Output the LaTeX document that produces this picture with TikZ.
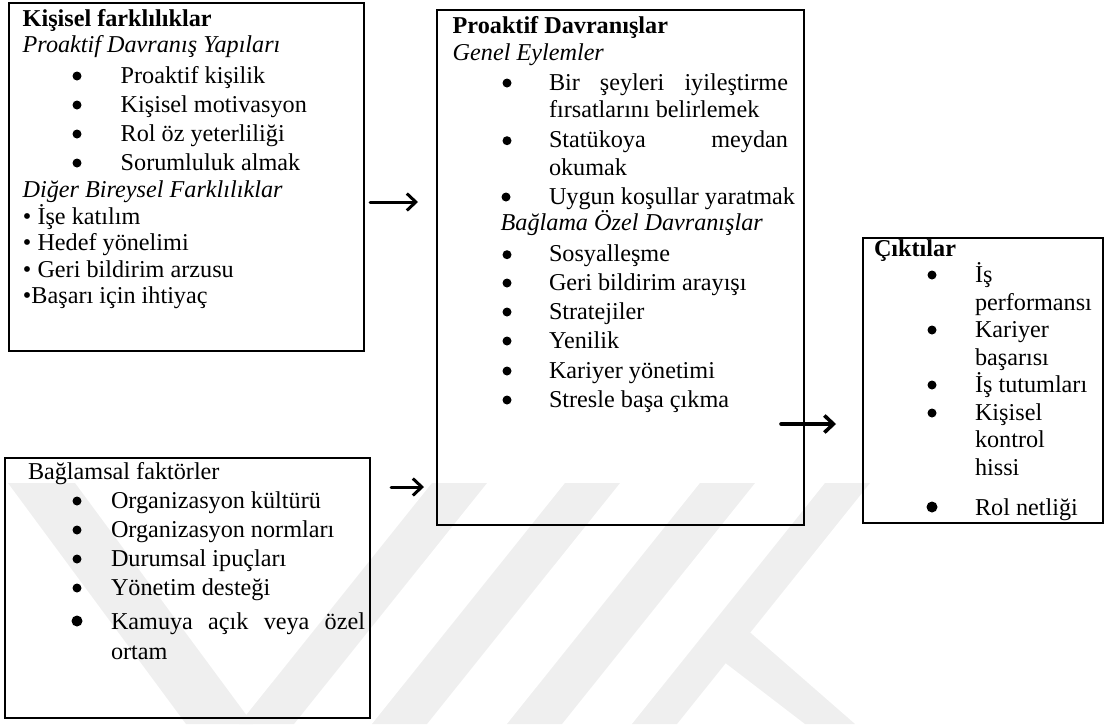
\documentclass[tikz,border=0pt]{standalone}
\usepackage{fontspec}
\setmainfont{Liberation Serif}
\usetikzlibrary{arrows.meta}
\definecolor{wmgray}{HTML}{EFEFEF}
\begin{document}
\begin{tikzpicture}[x=1pt,y=-1pt,
  frame/.style={draw, line width=2.2pt, rectangle, anchor=north west, inner sep=0pt, outer sep=0pt},
  txt/.style={anchor=base west, inner sep=0pt, outer sep=0pt, font=\fontsize{24.2}{29}\selectfont},
  dot/.style={circle, fill, inner sep=0pt, minimum size=9pt, yshift=7pt},
  bigdot/.style={circle, fill, inner sep=0pt, minimum size=11pt, yshift=8pt},
  flow/.style={line width=3pt, -{Straight Barb[length=9pt,width=17pt]}, line cap=round, line join=round},
]
\useasboundingbox (0,0) rectangle (1105,724);

% faint background emblem
\fill[wmgray] (8,483) -- (75,483) -- (253,724) -- (186,724) -- cycle;
\foreach \l/\r in {432/487, 565/620, 700/755, 825/870}
  \fill[wmgray] (\l,483) -- (\r,483) -- (\r-193,724) -- (\l-193,724) -- cycle;
\fill[wmgray] (715,655) -- (745,628) -- (855,724) -- (805,724) -- cycle;

% frames
\node[frame, minimum width=355pt, minimum height=348pt] (kf) at (9,3) {};
\node[frame, minimum width=367pt, minimum height=515pt] (pd) at (437,10) {};
\node[frame, minimum width=240pt, minimum height=285pt] (ct) at (863,238) {};
\node[frame, minimum width=365pt, minimum height=260pt] (bf) at (5,458) {};

% individual differences
\node[txt] (kf-h) at (22.7,26) {\bfseries Kişisel farklılıklar};
\node[txt] (kf-s1) at (22.7,52.7) {\itshape Proaktif Davranış Yapıları};
\foreach \y/\t [count=\i] in {83/Proaktif kişilik, 112/Kişisel motivasyon, 141/Rol öz yeterliliği, 170/Sorumluluk almak} {
  \node[dot] (kf-b\i) at (77,\y) {};
  \node[txt] (kf-t\i) at (120.7,\y) {\t};
}
\node[txt] (kf-s2) at (22.7,197) {\itshape Diğer Bireysel Farklılıklar};
\node[txt] (kf-u1) at (23,224) {• İşe katılım};
\node[txt] (kf-u2) at (23,250.5) {• Hedef yönelimi};
\node[txt] (kf-u3) at (23,277) {• Geri bildirim arzusu};
\node[txt] (kf-u4) at (23,303) {•Başarı için ihtiyaç};

% proactive behaviours
\node[txt] (pd-h) at (452.7,33.3) {\bfseries Proaktif Davranışlar};
\node[txt] (pd-s1) at (452.7,60.7) {\itshape Genel Eylemler};
\node[dot] (pd-b1) at (507,90) {};
\node[txt] (pd-t1) at (549,90) {\makebox[239pt][s]{Bir şeyleri iyileştirme}};
\node[txt] (pd-t1b) at (549,117) {fırsatlarını belirlemek};
\node[dot] (pd-b2) at (507,147.7) {};
\node[txt] (pd-t2) at (549,147.7) {\makebox[239pt][s]{Statükoya meydan}};
\node[txt] (pd-t2b) at (549,175) {okumak};
\node[dot] (pd-b3) at (506,204) {};
\node[txt] (pd-t3) at (549,204) {Uygun koşullar yaratmak};
\node[txt] (pd-s2) at (500.7,230.7) {\itshape Bağlama Özel Davranışlar};
\foreach \y/\t [count=\i] in {261.7/Sosyalleşme, 290/Geri bildirim arayışı, 319/Stratejiler, 348/Yenilik, 378/Kariyer yönetimi, 407/Stresle başa çıkma} {
  \node[dot] (pd-c\i) at (507,\y) {};
  \node[txt] (pd-d\i) at (549,\y) {\t};
}

% outcomes
\node[txt] (ct-h) at (874,256) {\bfseries Çıktılar};
\node[dot] (ct-b1) at (932,282) {};
\node[txt] (ct-t1) at (975,282) {İş};
\node[txt] (ct-t1b) at (975,310) {performansı};
\node[dot] (ct-b2) at (932,337) {};
\node[txt] (ct-t2) at (975,337) {Kariyer};
\node[txt] (ct-t2b) at (975,365) {başarısı};
\node[dot] (ct-b3) at (932,392) {};
\node[txt] (ct-t3) at (975,392) {İş tutumları};
\node[dot] (ct-b4) at (932,420) {};
\node[txt] (ct-t4) at (975,420) {Kişisel};
\node[txt] (ct-t4b) at (975,447) {kontrol};
\node[txt] (ct-t4c) at (975,475) {hissi};
\node[bigdot] (ct-b5) at (932,515) {};
\node[txt] (ct-t5) at (975,515) {Rol netliği};

% contextual factors
\node[txt] (bf-h) at (28,479) {Bağlamsal faktörler};
\foreach \y/\t [count=\i] in {508/Organizasyon kültürü, 537/Organizasyon normları, 566/Durumsal ipuçları, 595/Yönetim desteği} {
  \node[dot] (bf-b\i) at (77,\y) {};
  \node[txt] (bf-t\i) at (111,\y) {\t};
}
\node[bigdot] (bf-b5) at (77,629) {};
\node[txt] (bf-t5) at (111,629) {\makebox[254pt][s]{Kamuya açık veya özel}};
\node[txt] (bf-t5b) at (111,659) {ortam};

% arrows between the blocks
\coordinate (ya) at (0,202);
\coordinate (yb) at (0,424);
\coordinate (yc) at (0,487);
\draw[flow, shorten <=6pt, shorten >=19pt] (kf.east |- ya) -- (pd.west |- ya);
\draw[flow, line width=3.6pt, shorten <=-23pt, shorten >=27pt] (pd.east |- yb) -- (ct.west |- yb);
\draw[flow, shorten <=21pt, shorten >=13pt] (bf.east |- yc) -- (pd.west |- yc);
\end{tikzpicture}
\end{document}
